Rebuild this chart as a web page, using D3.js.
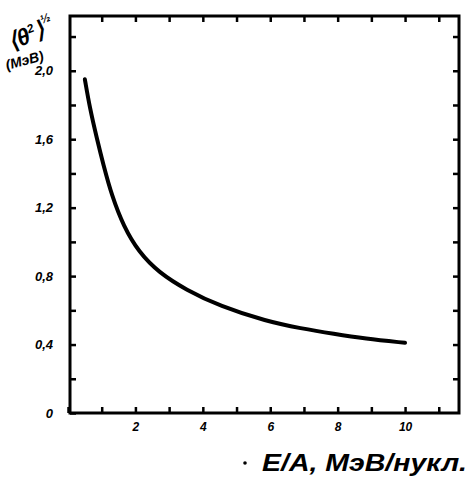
<!DOCTYPE html>
<html>
<head>
<meta charset="utf-8">
<script src="https://cdn.jsdelivr.net/npm/d3@7"></script>
<style>
  body { margin: 0; background: #fff; }
  svg text { font-family: "Liberation Sans", Arial, sans-serif; font-style: italic; font-weight: bold; fill: #000; }
  .axis path, .axis line { stroke: #000; }
</style>
</head>
<body>
<div id="chart"></div>
<script>
// curve
var energy = [0.5, 0.65, 0.85, 1.05, 1.3, 1.65, 2.1, 2.7, 3.5, 4.5, 5.9, 6.9, 7.9, 8.8, 10.0];
var theta  = [1.95, 1.78, 1.61, 1.45, 1.27, 1.09, 0.94, 0.82, 0.72, 0.625, 0.535, 0.495, 0.462, 0.435, 0.41];

var xTicks = [0, 1, 2, 3, 4, 5, 6, 7, 8, 9, 10, 11];
var xLabels = [2, 4, 6, 8, 10];
var yTicks = [0, 0.2, 0.4, 0.6, 0.8, 1.0, 1.2, 1.4, 1.6, 1.8, 2.0, 2.2];
var yLabels = [0, 0.4, 0.8, 1.2, 1.6, 2.0];

var width = 471, height = 484;

var svg = d3.select("#chart").append("svg")
    .attr("width", width)
    .attr("height", height);

// scales - the frame is 70..459 x 16..413
var x = d3.scaleLinear().domain([0, 11.6]).range([68, 459]);
var y = d3.scaleLinear().domain([0, 2.32]).range([413, 16]);

function yFmt(d) {
  if (yLabels.indexOf(Math.round(d * 10) / 10) < 0) return "";
  return d === 0 ? "0" : d3.format(".1f")(d).replace(".", ",");
}
function xFmt(d) {
  return xLabels.indexOf(d) < 0 ? "" : d;
}

// bottom axis, ticks pointing in
svg.append("g")
    .attr("class", "axis")
    .attr("transform", "translate(0,413)")
    .call(d3.axisBottom(x).tickValues(xTicks).tickSizeInner(-6).tickSizeOuter(0).tickPadding(9).tickFormat(xFmt))
    .call(g => g.select(".domain").remove())
    .selectAll("text").attr("font-size", 12);

// top axis
svg.append("g")
    .attr("class", "axis")
    .attr("transform", "translate(0,16)")
    .call(d3.axisTop(x).tickValues(xTicks.slice(1)).tickSizeInner(-6).tickSizeOuter(0).tickFormat(""))
    .call(g => g.select(".domain").remove());

// left axis
svg.append("g")
    .attr("class", "axis")
    .attr("transform", "translate(70,0)")
    .call(d3.axisLeft(y).tickValues(yTicks).tickSizeInner(-6).tickSizeOuter(0).tickPadding(17).tickFormat(yFmt))
    .call(g => g.select(".domain").remove())
    .selectAll("text").attr("font-size", 13);

// right axis
svg.append("g")
    .attr("class", "axis")
    .attr("transform", "translate(459,0)")
    .call(d3.axisRight(y).tickValues(yTicks.slice(1)).tickSizeInner(-6).tickSizeOuter(0).tickFormat(""))
    .call(g => g.select(".domain").remove());

svg.selectAll(".axis line").attr("stroke-width", 2.5);

// frame
svg.append("rect")
    .attr("x", 70)
    .attr("y", 16)
    .attr("width", 389)
    .attr("height", 397)
    .attr("fill", "none")
    .attr("stroke", "#000")
    .attr("stroke-width", 3);

// the curve
var line = d3.line()
    .x((d, i) => x(energy[i]))
    .y(d => y(d))
    .curve(d3.curveBasis);

svg.append("path")
    .datum(theta)
    .attr("d", line)
    .attr("fill", "none")
    .attr("stroke", "#000")
    .attr("stroke-width", 4)
    .attr("stroke-linecap", "round");

// y label
var yl = svg.append("text")
    .attr("transform", "translate(12,50) rotate(-22)")
    .attr("font-size", 23);
yl.append("tspan").text("⟨θ");
yl.append("tspan").attr("font-size", 12).attr("dy", -9).text("2");
yl.append("tspan").attr("dy", 9).text("⟩");
yl.append("tspan").attr("font-size", 12).attr("dy", -13).text("½");

svg.append("text")
    .attr("transform", "translate(7,70) rotate(-15)")
    .attr("font-size", 14)
    .text("(МэВ)");

// x label
svg.append("circle")
    .attr("cx", 245)
    .attr("cy", 463)
    .attr("r", 1.8)
    .attr("fill", "#000");

svg.append("text")
    .attr("x", 262)
    .attr("y", 471)
    .attr("font-size", 24)
    .attr("textLength", 205)
    .attr("lengthAdjust", "spacingAndGlyphs")
    .text("E/A, МэВ/нукл.");
</script>
</body>
</html>
